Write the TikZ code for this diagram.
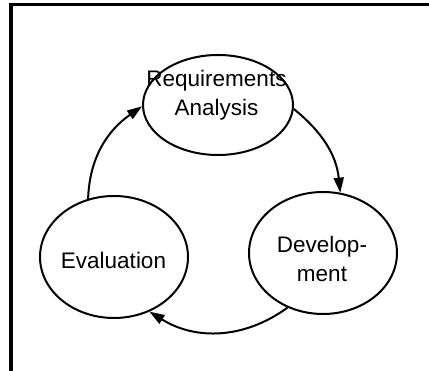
\documentclass[tikz,border=0pt]{standalone}
\usepackage{fontspec}
\setmainfont{Liberation Sans}
\usetikzlibrary{shapes.geometric,arrows.meta}

\tikzset{
	stage/.style={draw,ellipse,line width=2pt,inner sep=0pt},
	stagetext/.style={align=center,inner sep=0pt,font=\fontsize{22.5}{29}\selectfont},
	flow/.style={line width=2pt,-{Triangle[length=15pt,width=10pt]}}
}

\begin{document}
\begin{tikzpicture}[x=1pt,y=1pt]
\useasboundingbox (0,0) rectangle (429,371);

% frame
\draw[line width=3.5pt](11,0)--(11,366.5)--(429,366.5);

\foreach \n/\x/\y/\w/\h in {req/218/266/150/100,dev/323/118/148/122,eva/114/114/148/122}
	\node[stage,minimum width=\w pt,minimum height=\h pt](\n) at (\x,\y){};

\node[stagetext](reqtext) at (216.5,276){Requirements\\Analysis};
\node[stagetext](devtext) at (322,112){Develop-\\ment};
\node[stagetext](evatext) at (113.5,111){Evaluation};

\draw[flow](req.-3)to[out=-39,in=96](dev.74);
\draw[flow](dev.237)to[out=-144,in=-32](eva.-57);
\draw[flow](eva.114)to[out=88,in=215](req.181);
\end{tikzpicture}
\end{document}
